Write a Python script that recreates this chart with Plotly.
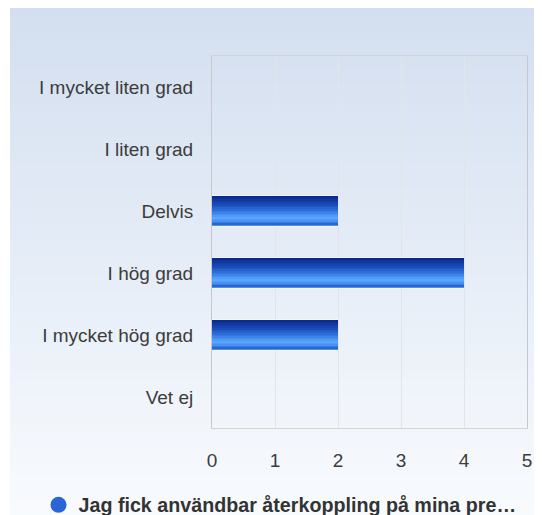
import plotly.graph_objects as go

categories = ["I mycket liten grad", "I liten grad", "Delvis", "I hög grad", "I mycket hög grad", "Vet ej"]
values = [0, 0, 2, 4, 2, 0]
series_name = "Jag fick användbar återkoppling på mina pre…"
x_ticks = [0, 1, 2, 3, 4, 5]

W, H = 542, 515
L, R, T, B = 204, 23, 48, 95
pw, ph = W - L - R, H - T - B


def lerp(c1, c2, t):
    return tuple(round(a + (b - a) * t) for a, b in zip(c1, c2))


def grad(stops, t):
    for (t0, c0), (t1, c1) in zip(stops, stops[1:]):
        if t0 <= t <= t1:
            return lerp(c0, c1, (t - t0) / (t1 - t0) if t1 > t0 else 0)
    return stops[-1][1]


fig = go.Figure()

# background gradient strips (paper coords)
x0 = (2 - L) / pw
x1 = (W + 5 - L) / pw
ytop = (T + ph + 1) / ph
ybot = (T + ph - H - 5) / ph
n_bg = 60
top_c, bot_c = (211, 223, 240), (249, 251, 254)
shapes = []
for i in range(n_bg):
    ya = ytop - (ytop - ybot) * i / n_bg
    yb = ytop - (ytop - ybot) * (i + 1) / n_bg
    c = lerp(top_c, bot_c, i / (n_bg - 1))
    shapes.append(dict(type="rect", xref="paper", yref="paper", x0=x0, x1=x1, y0=yb, y1=ya + 0.002,
                       fillcolor="rgb(%d,%d,%d)" % c, line=dict(width=0), layer="below"))

bar_w = 0.47
# white outline base bar
fig.add_trace(go.Bar(y=categories, x=values, orientation="h", width=bar_w + 0.03,
                     marker=dict(color="white", line=dict(width=0)), showlegend=False,
                     hoverinfo="skip"))

stops = [(0.0, (10, 40, 135)), (0.3, (25, 75, 185)), (0.55, (55, 125, 230)),
         (0.75, (88, 166, 255)), (0.88, (70, 140, 240)), (1.0, (30, 90, 205))]
n = 18
sw = bar_w / n
for i in range(n):
    c = grad(stops, (i + 0.5) / n)
    fig.add_trace(go.Bar(y=categories, x=values, orientation="h", width=sw * 1.05,
                         offset=-bar_w / 2 + i * sw,
                         marker=dict(color="rgb(%d,%d,%d)" % c, line=dict(width=0)),
                         showlegend=False, hoverinfo="skip"))

# legend entry
fig.add_trace(go.Scatter(x=[None], y=[None], mode="markers", name=series_name,
                         marker=dict(symbol="circle", size=20, color="#2a66d6",
                                     line=dict(width=0))))

fig.update_layout(
    width=W, height=H,
    margin=dict(l=L, r=R, t=T, b=B, autoexpand=False),
    paper_bgcolor="white",
    plot_bgcolor="rgba(0,0,0,0)",
    barmode="overlay",
    shapes=shapes,
    font=dict(family="Arial, Liberation Sans, sans-serif", size=19, color="#3c3c3c"),
    showlegend=True,
    legend=dict(orientation="h", xref="container", yref="container",
                x=272 / W, xanchor="center", y=(H - 497) / H, yanchor="middle",
                font=dict(size=19.7, color="#333", family="Arial, Liberation Sans, sans-serif", weight="bold"),
                bgcolor="rgba(0,0,0,0)", itemsizing="trace"),
    xaxis=dict(range=[0, 5], tickvals=x_ticks, showgrid=True, gridcolor="#e2e4e8", gridwidth=1,
               zeroline=False, showline=True, linecolor="#d2d4d8", mirror=True,
               ticks="", ticklabelstandoff=15, tickfont=dict(size=19, color="#3c3c3c"), fixedrange=True),
    yaxis=dict(categoryorder="array", categoryarray=categories, autorange="reversed",
               showgrid=False, zeroline=False, showline=True, linecolor="#c8c8cc", mirror=True,
               ticks="", ticklabelstandoff=14, tickfont=dict(size=19, color="#3c3c3c")),
)

fig.write_html("out.html")
